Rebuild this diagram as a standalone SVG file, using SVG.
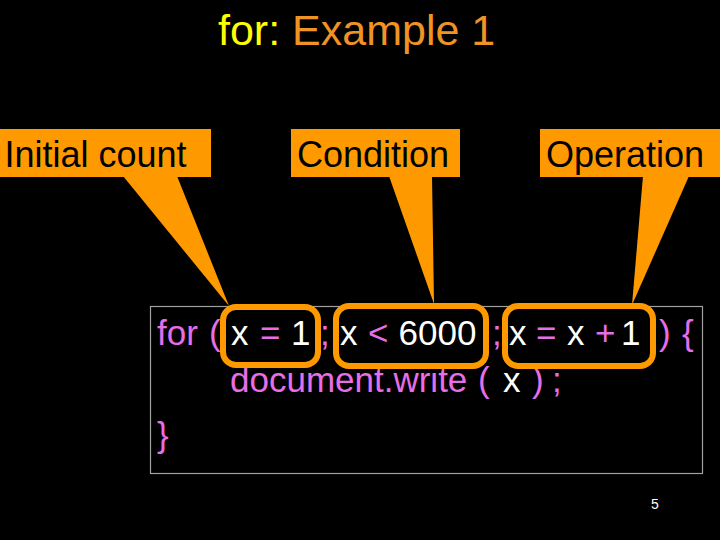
<svg xmlns="http://www.w3.org/2000/svg" width="720" height="540" viewBox="0 0 720 540">
  <style>
    .lbl { font-family: "Liberation Sans", Arial, sans-serif; font-size: 36px; fill: #000000; }
    .callout { fill: #ff9900; }
    .code { font-family: "Liberation Sans", Arial, sans-serif; font-size: 35px; fill: #e66ee6; }
    .w { fill: #ffffff; }
    .hl { fill: none; stroke: #ff9900; stroke-width: 6; }
  </style>
  <rect x="0" y="0" width="720" height="540" fill="#000000"/>

  <g id="title">
    <text x="218" y="45" font-family="Liberation Sans, Arial, sans-serif" font-size="43"><tspan fill="#ffff00">for:</tspan><tspan fill="#ef9424"> Example 1</tspan></text>
  </g>

  <g id="connectors">
    <polygon class="callout" points="123,176 177,176 229,306"/>
    <polygon class="callout" points="389,176 432,176 434,304"/>
    <polygon class="callout" points="643,176 689,176 632,305"/>
  </g>

  <g id="initial-count">
    <rect class="callout" x="0" y="129" width="211" height="48"/>
    <text class="lbl" x="4.5" y="167">Initial count</text>
  </g>
  <g id="condition">
    <rect class="callout" x="291" y="129" width="169" height="48"/>
    <text class="lbl" x="297" y="167">Condition</text>
  </g>
  <g id="operation">
    <rect class="callout" x="540" y="129" width="180" height="48"/>
    <text class="lbl" x="546" y="167">Operation</text>
  </g>

  <g id="code-box">
    <rect x="150.5" y="306.5" width="552" height="167" fill="none" stroke="#a0a0a0" stroke-width="1.2"/>
    <text class="code" y="345">
      <tspan x="157">for</tspan>
      <tspan x="209">(</tspan>
      <tspan x="231" class="w">x</tspan>
      <tspan x="260">=</tspan>
      <tspan x="291" class="w">1</tspan>
      <tspan x="320">;</tspan>
      <tspan x="340" class="w">x</tspan>
      <tspan x="368">&lt;</tspan>
      <tspan x="398.5" class="w">6000</tspan>
      <tspan x="492">;</tspan>
      <tspan x="509" class="w">x</tspan>
      <tspan x="536">=</tspan>
      <tspan x="567" class="w">x</tspan>
      <tspan x="595">+</tspan>
      <tspan x="621" class="w">1</tspan>
      <tspan x="659">)</tspan>
      <tspan x="682">{</tspan>
    </text>
    <text class="code" y="392">
      <tspan x="230">document.write</tspan>
      <tspan x="478">(</tspan>
      <tspan x="503" class="w">x</tspan>
      <tspan x="532">)</tspan>
      <tspan x="552">;</tspan>
    </text>
    <text class="code" x="157" y="447">}</text>
  </g>

  <g id="highlight-init">
    <rect class="hl" x="223" y="307" width="95" height="58" rx="13"/>
  </g>
  <g id="highlight-cond">
    <rect class="hl" x="336" y="306" width="150" height="60" rx="13"/>
  </g>
  <g id="highlight-op">
    <rect class="hl" x="505" y="306" width="148" height="60" rx="13"/>
  </g>

  <g id="page-number">
    <text x="651" y="509" font-family="Liberation Sans, Arial, sans-serif" font-size="14" fill="#ffffff">5</text>
  </g>
</svg>
